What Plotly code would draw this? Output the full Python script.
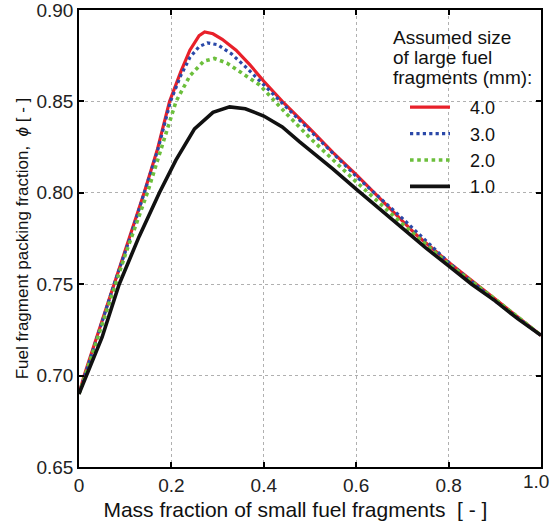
import plotly.graph_objects as go

# ---- data ----
sizes = ["4.0", "3.0", "2.0", "1.0"]

x_40 = [0.0, 0.011, 0.05, 0.076, 0.11, 0.141, 0.17, 0.196, 0.22, 0.24, 0.26, 0.272, 0.29, 0.31, 0.34, 0.37, 0.40, 0.44, 0.50, 0.55, 0.60, 0.672, 0.73, 0.80, 0.86, 0.93, 1.0]
y_40 = [0.690, 0.700, 0.730, 0.750, 0.776, 0.800, 0.824, 0.850, 0.866, 0.878, 0.886, 0.888, 0.887, 0.884, 0.878, 0.870, 0.861, 0.850, 0.835, 0.822, 0.810, 0.792, 0.777, 0.762, 0.750, 0.736, 0.722]

x_30 = [0.0, 0.05, 0.076, 0.11, 0.142, 0.17, 0.198, 0.22, 0.24, 0.26, 0.278, 0.30, 0.33, 0.36, 0.40, 0.44, 0.50, 0.60, 0.70, 0.80, 0.90, 1.0]
y_30 = [0.690, 0.730, 0.750, 0.775, 0.800, 0.823, 0.850, 0.864, 0.874, 0.880, 0.882, 0.881, 0.876, 0.869, 0.859, 0.849, 0.834, 0.809, 0.786, 0.762, 0.741, 0.722]

x_20 = [0.0, 0.05, 0.10, 0.148, 0.18, 0.21, 0.24, 0.27, 0.293, 0.32, 0.35, 0.391, 0.45, 0.50, 0.60, 0.70, 0.80, 0.90, 1.0]
y_20 = [0.690, 0.728, 0.766, 0.800, 0.826, 0.850, 0.864, 0.872, 0.8735, 0.871, 0.866, 0.859, 0.843, 0.830, 0.806, 0.783, 0.761, 0.742, 0.722]

x_10 = [0.0, 0.05, 0.087, 0.13, 0.174, 0.21, 0.25, 0.29, 0.326, 0.36, 0.40, 0.44, 0.477, 0.55, 0.60, 0.651, 0.70, 0.75, 0.80, 0.85, 0.90, 0.95, 1.0]
y_10 = [0.690, 0.721, 0.750, 0.776, 0.800, 0.818, 0.835, 0.844, 0.847, 0.846, 0.842, 0.836, 0.828, 0.813, 0.802, 0.791, 0.781, 0.770, 0.760, 0.750, 0.741, 0.731, 0.722]

x_tickvals = [0, 0.2, 0.4, 0.6, 0.8, 1.0]
x_ticktext = ["0", "0.2", "0.4", "0.6", "0.8", "1.0"]
y_tickvals = [0.65, 0.70, 0.75, 0.80, 0.85, 0.90]
y_ticktext = ["0.65", "0.70", "0.75", "0.80", "0.85", "0.90"]

legend_title_lines = ["Assumed size", "of large fuel", "fragments (mm):"]

FONT = "Liberation Sans, Arial, sans-serif"

series = [
    (x_40, y_40, sizes[0], dict(color="#e8202a", width=3.2, dash="solid")),
    (x_30, y_30, sizes[1], dict(color="#2a48a8", width=3.2, dash="dot")),
    (x_20, y_20, sizes[2], dict(color="#6cbf3c", width=3.6, dash="dot")),
    (x_10, y_10, sizes[3], dict(color="#111111", width=3.6, dash="solid")),
]

fig = go.Figure()
for xs, ys, name, line in series:
    fig.add_trace(go.Scatter(x=xs, y=ys, mode="lines",
                             name="&nbsp;&nbsp;&nbsp;" + name, line=line))

axis_common = dict(
    showline=True, linecolor="black", linewidth=1.5, mirror="ticks",
    ticks="inside", ticklen=5, tickwidth=1.5, tickcolor="black",
    showgrid=True, gridcolor="#b0b0b0", griddash="dot", gridwidth=1,
    zeroline=False, automargin=False, ticklabeloverflow="allow",
    tickfont=dict(family=FONT, size=19, color="#222"),
)

# last x label is drawn as an annotation so it can sit flush with the right edge
fig.update_xaxes(
    range=[0, 1.0], tickvals=x_tickvals, ticktext=x_ticktext[:-1] + [""],
    title=dict(text="Mass fraction of small fuel fragments &nbsp;[ - ]" + "&nbsp;" * 5,
               font=dict(family=FONT, size=21, color="#111"), standoff=8),
    **axis_common,
)
fig.add_annotation(text=x_ticktext[-1], x=x_tickvals[-1], xref="x", y=0, yref="paper",
                   xanchor="right", yanchor="top", xshift=10, yshift=-2,
                   showarrow=False, font=dict(family=FONT, size=19, color="#222"))

fig.update_yaxes(
    range=[0.65, 0.90], tickvals=y_tickvals, ticktext=y_ticktext,
    title=dict(text="Fuel fragment packing fraction, &nbsp;<i>ϕ</i> [ - ]",
               font=dict(family=FONT, size=17, color="#111"), standoff=4),
    **axis_common,
)

# white box behind the legend area (covers gridlines)
fig.add_shape(type="rect", xref="paper", yref="paper",
              x0=0.655, x1=0.997, y0=(467 - 190) / 457, y1=(467 - 17) / 457,
              fillcolor="white", line=dict(width=0), layer="between")

for i, txt in enumerate(legend_title_lines):
    fig.add_annotation(
        text=txt, xref="paper", yref="paper",
        x=(391 - 79) / 462, y=(467 - (37 + 20.5 * i)) / 457,
        xanchor="left", yanchor="middle", showarrow=False,
        font=dict(family=FONT, size=19, color="#111"),
    )

fig.update_layout(
    width=550, height=529,
    margin=dict(l=79, r=9, t=10, b=62),
    paper_bgcolor="white", plot_bgcolor="white",
    font=dict(family=FONT, size=19, color="#111"),
    showlegend=True,
    legend=dict(
        x=(405 - 79) / 462, y=(467 - 89) / 457, xanchor="left", yanchor="top",
        bgcolor="rgba(0,0,0,0)", borderwidth=0,
        font=dict(family=FONT, size=18, color="#111"),
        itemwidth=40, tracegroupgap=0,
    ),
)

# remove the browser's default 8px body margin so the figure sits at (0, 0)
fig.write_html("out.html", config={"displayModeBar": False},
               post_script="document.body.style.margin='0';")
